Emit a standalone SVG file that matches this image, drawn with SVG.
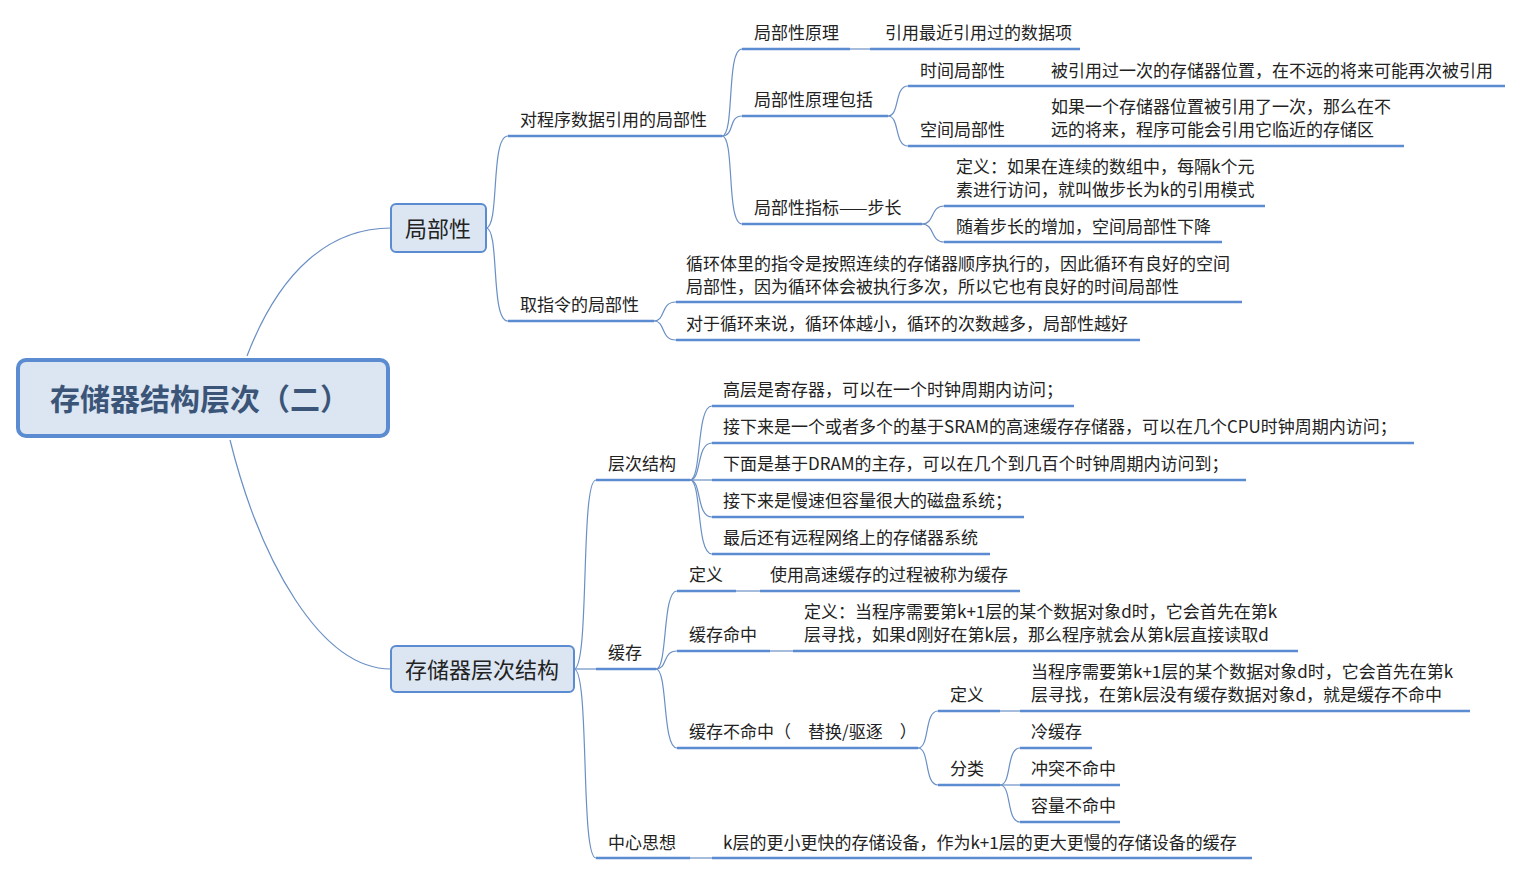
<svg xmlns="http://www.w3.org/2000/svg" width="1524" height="876" viewBox="0 0 1524 876">
<style>
text{font-family:"Noto Sans CJK SC","Microsoft YaHei",sans-serif;font-size:17px;fill:#222}
.u{stroke:#5b8bd0;stroke-width:2.5;fill:none}
.c{stroke:#6a8fc4;stroke-width:1.2;fill:none}
.box{fill:#dce6f2;stroke:#5b8bd0}
</style>
<rect width="1524" height="876" fill="#fff"/>
<g id="connectors">
<path class="c" d="M247,356 C280,270 330,228 391,228"/>
<path class="c" d="M230,440 C260,560 320,669 391,669"/>
<path class="c" d="M486,228 C500,228 490,136 508,136"/>
<path class="c" d="M486,228 C500,228 490,321 508,321"/>
<path class="c" d="M722,136 C735,136 726,49 742,49"/>
<path class="c" d="M722,136 C735,136 728,116 742,116"/>
<path class="c" d="M722,136 C735,136 726,224 742,224"/>
<path class="c" d="M850,49 L870,49"/>
<path class="c" d="M888,116 C900,116 894,86 908,86"/>
<path class="c" d="M888,116 C900,116 894,146 908,146"/>
<path class="c" d="M922,224 C935,224 930,206 944,206"/>
<path class="c" d="M922,224 C935,224 930,242 944,242"/>
<path class="c" d="M654,321 C666,321 660,302 676,302"/>
<path class="c" d="M654,321 C666,321 660,340 676,340"/>
<path class="c" d="M574,669 C590,669 580,480 596,480"/>
<path class="c" d="M574,669 L596,669"/>
<path class="c" d="M574,669 C590,669 580,858 596,858"/>
<path class="c" d="M690,480 C702,480 696,406 712,406"/>
<path class="c" d="M690,480 C702,480 696,443 712,443"/>
<path class="c" d="M690,480 L712,480"/>
<path class="c" d="M690,480 C702,480 696,517 712,517"/>
<path class="c" d="M690,480 C702,480 696,554 712,554"/>
<path class="c" d="M656,669 C668,669 662,591 677,591"/>
<path class="c" d="M656,669 C668,669 662,651 677,651"/>
<path class="c" d="M656,669 C668,669 662,748 677,748"/>
<path class="c" d="M918,748 C930,748 924,711 938,711"/>
<path class="c" d="M918,748 C930,748 924,785 938,785"/>
<path class="c" d="M1000,785 C1012,785 1006,748 1020,748"/>
<path class="c" d="M1000,785 L1020,785"/>
<path class="c" d="M1000,785 C1012,785 1006,822 1020,822"/>
</g>
<g id="root"><rect class="box" x="18" y="360" width="370" height="76" rx="8" stroke-width="4"/><text x="200" y="410" text-anchor="middle" style="font-size:30px;font-weight:bold;fill:#3b5578">存储器结构层次（二）</text></g>
<g id="n-jubu"><rect class="box" x="391" y="204" width="95" height="48" rx="5" stroke-width="2"/><text x="438" y="237" text-anchor="middle" style="font-size:22px">局部性</text></g>
<g id="n-cengci"><rect class="box" x="391" y="646" width="183" height="46" rx="5" stroke-width="2"/><text x="482" y="678" text-anchor="middle" style="font-size:22px">存储器层次结构</text></g>
<g id="n1"><text x="520" y="126">对程序数据引用的局部性</text><path class="u" d="M508,136H722"/></g>
<g id="n2"><text x="520" y="311">取指令的局部性</text><path class="u" d="M508,321H654"/></g>
<g id="n3"><text x="754" y="39">局部性原理</text><path class="u" d="M742,49H850"/></g>
<g id="n4"><text x="885" y="39">引用最近引用过的数据项</text><path class="u" d="M870,49H1080"/></g>
<g id="n5"><text x="754" y="106">局部性原理包括</text><path class="u" d="M742,116H888"/></g>
<g id="n6"><text x="920" y="77">时间局部性</text><path class="u" d="M908,86H1035"/></g>
<g id="n7"><text x="1051" y="77">被引用过一次的存储器位置，在不远的将来可能再次被引用</text><path class="u" d="M1035,86H1505"/></g>
<g id="n8"><text x="920" y="136">空间局部性</text><path class="u" d="M908,146H1035"/></g>
<g id="n9"><text x="1051" y="113">如果一个存储器位置被引用了一次，那么在不</text><text x="1051" y="136">远的将来，程序可能会引用它临近的存储区</text><path class="u" d="M1035,146H1404"/></g>
<g id="n10"><text x="754" y="214">局部性指标——步长</text><path class="u" d="M742,224H922"/></g>
<g id="n11"><text x="956" y="173">定义：如果在连续的数组中，每隔k个元</text><text x="956" y="196">素进行访问，就叫做步长为k的引用模式</text><path class="u" d="M944,206H1265"/></g>
<g id="n12"><text x="956" y="233">随着步长的增加，空间局部性下降</text><path class="u" d="M944,242H1222"/></g>
<g id="n13"><text x="686" y="270">循环体里的指令是按照连续的存储器顺序执行的，因此循环有良好的空间</text><text x="686" y="293">局部性，因为循环体会被执行多次，所以它也有良好的时间局部性</text><path class="u" d="M676,302H1242"/></g>
<g id="n14"><text x="686" y="330">对于循环来说，循环体越小，循环的次数越多，局部性越好</text><path class="u" d="M676,340H1140"/></g>
<g id="n15"><text x="608" y="470">层次结构</text><path class="u" d="M596,480H690"/></g>
<g id="n16"><text x="723" y="396">高层是寄存器，可以在一个时钟周期内访问；</text><path class="u" d="M712,406H1074"/></g>
<g id="n17"><text x="723" y="433">接下来是一个或者多个的基于SRAM的高速缓存存储器，可以在几个CPU时钟周期内访问；</text><path class="u" d="M712,443H1414"/></g>
<g id="n18"><text x="723" y="470">下面是基于DRAM的主存，可以在几个到几百个时钟周期内访问到；</text><path class="u" d="M712,480H1246"/></g>
<g id="n19"><text x="723" y="507">接下来是慢速但容量很大的磁盘系统；</text><path class="u" d="M712,517H1024"/></g>
<g id="n20"><text x="723" y="544">最后还有远程网络上的存储器系统</text><path class="u" d="M712,554H990"/></g>
<g id="n21"><text x="608" y="659">缓存</text><path class="u" d="M596,669H656"/></g>
<g id="n22"><text x="689" y="581">定义</text><path class="u" d="M677,591H736"/></g>
<g id="n23"><text x="770" y="581">使用高速缓存的过程被称为缓存</text><path class="u" d="M760,591H1020"/></g>
<path class="c" d="M736,591H760"/>
<g id="n24"><text x="689" y="641">缓存命中</text><path class="u" d="M677,651H770"/></g>
<g id="n25"><text x="804" y="618">定义：当程序需要第k+1层的某个数据对象d时，它会首先在第k</text><text x="804" y="641">层寻找，如果d刚好在第k层，那么程序就会从第k层直接读取d</text><path class="u" d="M793,651H1298"/></g>
<path class="c" d="M770,651H793"/>
<g id="n26"><text x="689" y="738">缓存不命中（　替换/驱逐　）</text><path class="u" d="M677,748H918"/></g>
<g id="n27"><text x="950" y="701">定义</text><path class="u" d="M938,711H1000"/></g>
<g id="n28"><text x="1031" y="678">当程序需要第k+1层的某个数据对象d时，它会首先在第k</text><text x="1031" y="701">层寻找，在第k层没有缓存数据对象d，就是缓存不命中</text><path class="u" d="M1020,711H1470"/></g>
<path class="c" d="M1000,711H1020"/>
<g id="n29"><text x="950" y="775">分类</text><path class="u" d="M938,785H1000"/></g>
<g id="n30"><text x="1031" y="738">冷缓存</text><path class="u" d="M1020,748H1092"/></g>
<g id="n31"><text x="1031" y="775">冲突不命中</text><path class="u" d="M1020,785H1120"/></g>
<g id="n32"><text x="1031" y="812">容量不命中</text><path class="u" d="M1020,822H1120"/></g>
<g id="n33"><text x="608" y="849">中心思想</text><path class="u" d="M596,858H690"/></g>
<g id="n34"><text x="723" y="849">k层的更小更快的存储设备，作为k+1层的更大更慢的存储设备的缓存</text><path class="u" d="M712,858H1252"/></g>
<path class="c" d="M690,858H712"/>
</svg>
